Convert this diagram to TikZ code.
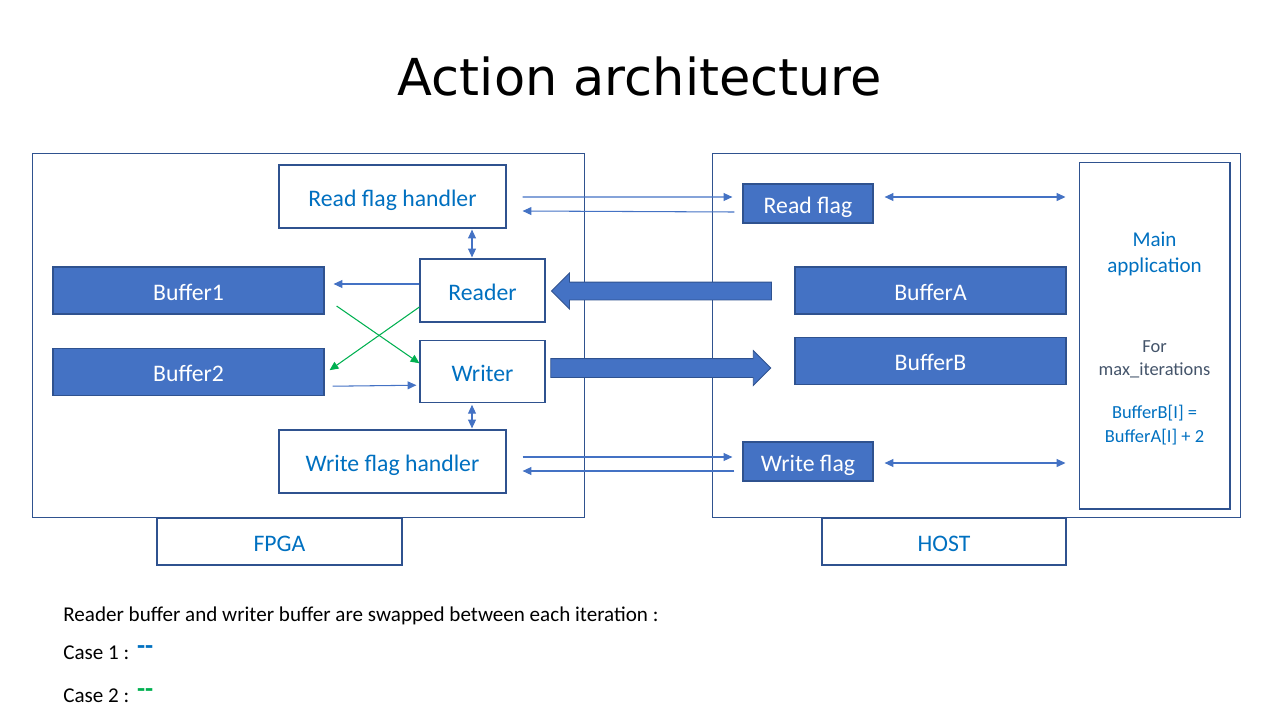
\documentclass[tikz,border=0pt]{standalone}
\usepackage{fontspec}
\setmainfont{Carlito}
\newfontfamily\titlefont{DejaVu Sans}
\usepackage{tikz}
\usetikzlibrary{arrows.meta,positioning,calc,shapes.arrows}
\usepackage{xcolor}
\definecolor{acblue}  {RGB}{ 68,114,196}
\definecolor{acborder}{RGB}{ 47, 82,143}
\definecolor{actext}  {RGB}{  0,112,192}
\definecolor{acgreen} {RGB}{  0,176, 80}
\definecolor{acslate} {RGB}{ 68, 84,106}

\begin{document}
\begin{tikzpicture}[
    x=0.02cm, y=-0.02cm,
    box/.style={draw=acborder, line width=0.7pt, inner sep=0pt, align=center, text height=12pt, text depth=0.4pt, font=\fontsize{13.5}{16}\selectfont},
    logic/.style={box, fill=white, text=actext},
    buffer/.style={box, fill=acblue, text=white, minimum width=5.42cm, minimum height=0.94cm},
    flag/.style={box, fill=acblue, text=white, minimum width=2.6cm, minimum height=0.78cm},
    frame/.style={draw=acborder, line width=0.6pt, inner sep=0pt},
    tag/.style={box, minimum width=4.9cm, minimum height=0.94cm, text=actext},
    flow/.style={-{Triangle[length=5pt,width=4.5pt]}, draw=acblue, line width=0.6pt},
    dflow/.style={flow, {Triangle[length=5pt,width=4.5pt]}-{Triangle[length=5pt,width=4.5pt]}},
    swap/.style={flow, draw=acgreen},
    bigarrow/.style={single arrow, draw=acborder, fill=acblue, line width=0.5pt, minimum height=4.4cm, inner xsep=0pt, inner ysep=0.17cm, single arrow head extend=0.18cm, single arrow tip angle=90},
    note/.style={anchor=west, inner sep=0pt, font=\fontsize{12}{14}\selectfont},
    casemark/.style={inner sep=0pt, font=\fontsize{15}{15}\selectfont\bfseries}
]
    \useasboundingbox (0,0) rectangle (1280,720);

    \node[font=\titlefont\fontsize{29}{34}\selectfont] (title) at (640,77) {Action architecture};

    % FPGA side
    \node[frame, minimum width=11.06cm, minimum height=7.3cm] (fpga) at (308.5,335.5) {};
    \node[tag] (fpgatag) at (279.5,541.5) {FPGA};
    \node[logic, minimum width=4.54cm, minimum height=1.26cm] (rfh) at (392.5,196.5) {Read flag handler};
    \node[logic, minimum width=2.5cm, minimum height=1.26cm] (reader) at (482.5,290.5) {Reader};
    \node[logic, minimum width=2.5cm, minimum height=1.24cm, below=0.34cm of reader] (writer) {Writer};
    \node[logic, minimum width=4.54cm, minimum height=1.26cm] (wfh) at (392.5,461.5) {Write flag handler};
    \node[buffer] (buf1) at (188.5,290.5) {Buffer1};
    \node[buffer, below=0.66cm of buf1] (buf2) {Buffer2};

    % HOST side
    \node[frame, minimum width=10.58cm, minimum height=7.3cm] (host) at (976.5,335.5) {};
    \node[tag, minimum width=4.88cm] (hosttag) at (944,541.5) {HOST};
    \node[flag] (rflag) at (808,203.5) {Read flag};
    \node[flag] (wflag) at (808,461.5) {Write flag};
    \node[buffer] (bufa) at (930.5,290.5) {BufferA};
    \node[buffer, below=0.44cm of bufa] (bufb) {BufferB};
    \node[frame, minimum width=3.02cm, minimum height=6.94cm] (mainapp) at (1154.5,335.5) {};
    \node[text=actext, align=center, font=\fontsize{12}{14.7}\selectfont] (maintitle) at (1154.5,254) {Main\\application};
    \node[text=acslate, align=center, font=\fontsize{10.5}{13}\selectfont] (loop) at (1154.5,359) {For\\max\_iterations};
    \node[text=actext, align=center, font=\fontsize{10.5}{13.4}\selectfont] (update) at (1154.5,425) {BufferB[I] =\\BufferA[I] + 2};

    % data paths
    \node[bigarrow, shape border rotate=180] (rdpath) at (666,291) {};
    \node[bigarrow, inner ysep=0.18cm, single arrow head extend=0.16cm] (wrpath) at (656,368) {};

    % flags
    \draw[flow] ($(rfh.east)+(16,0.5)$) -- ($(rflag.west)+(-10,-6.5)$);
    \draw[flow] ($(rflag.west)+(-8,8.5)$) -- ($(rfh.east)+(16,14.5)$);
    \draw[dflow] ($(rflag.east)+(11,-6.5)$) -- ($(rflag.east -| mainapp.west)+(-13,-6.5)$);
    \draw[flow] ($(wfh.east)+(16,-4.5)$) -- ($(wflag.west)+(-10,-4.5)$);
    \draw[flow] ($(wflag.west)+(-8,9.5)$) -- ($(wfh.east)+(16,9.5)$);
    \draw[dflow] ($(wflag.east)+(11,1.5)$) -- ($(wflag.east -| mainapp.west)+(-13,1.5)$);
    \draw[dflow] ($(reader.north)+(-10.5,-1)$) -- ($(rfh.south -| reader.north)+(-10.5,1)$);
    \draw[dflow] ($(writer.south)+(-10.5,2)$) -- ($(wfh.north -| writer.south)+(-10.5,-1)$);

    % buffers
    \draw[flow] ($(reader.west)+(0,-6.5)$) -- ($(buf1.east)+(9,-6.5)$);
    \draw[flow] ($(buf2.east)+(8,14.5)$) -- ($(writer.west)+(-3,14)$);
    \draw[swap] ($(buf1.east)+(12,15.5)$) -- ($(writer.west)+(0,-8)$);
    \draw[swap] ($(reader.west)+(0,16.5)$) -- ($(buf2.east)+(5,-1.5)$);

    % legend
    \node[note] (swapnote) at (63,616) {Reader buffer and writer buffer are swapped between each iteration :};
    \node[note] (case1) at (63,653) {Case 1 :};
    \node[note] (case2) at (63,696) {Case 2 :};
    \node[casemark, text=actext, right=4pt of case1.east, yshift=1.5pt] (mark1) {-{}-};
    \node[casemark, text=acgreen, right=4pt of case2.east, yshift=1.5pt] (mark2) {-{}-};
\end{tikzpicture}
\end{document}
